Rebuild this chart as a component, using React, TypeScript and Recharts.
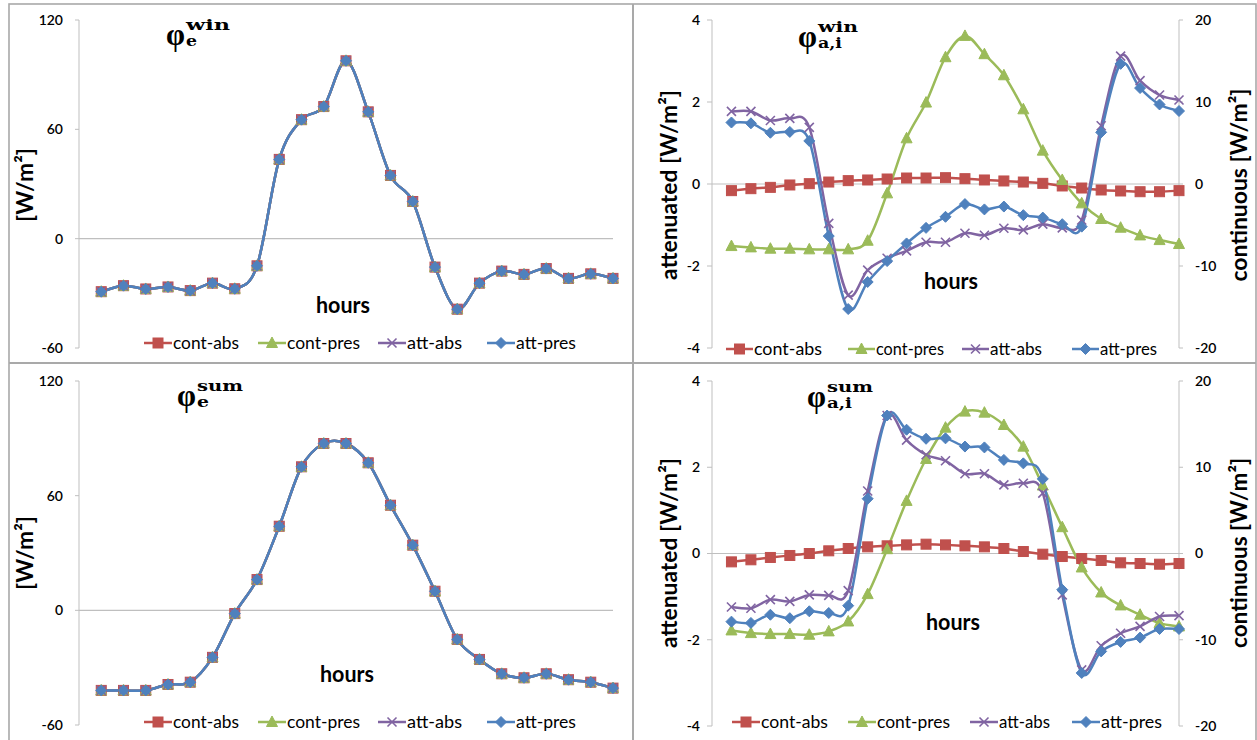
import React from 'react';
import { LineChart, Line, XAxis, YAxis, ReferenceLine } from 'recharts';

// ---------- data ----------
const hours = [1, 2, 3, 4, 5, 6, 7, 8, 9, 10, 11, 12, 13, 14, 15, 16, 17, 18, 19, 20, 21, 22, 23, 24];

// φe (winter / summer) – all four variants coincide
const eWin = [-29.1, -25.8, -27.6, -26.5, -28.5, -24.4, -27.5, -14.9, 43.5, 65.3, 72.5, 97.6, 69.6, 34.7, 20.4, -15.6, -38.7, -24.4, -17.8, -19.6, -16.4, -21.8, -19.3, -21.8];
const eSum = [-41.9, -41.9, -41.9, -38.8, -37.6, -24.6, -1.7, 16.1, 44.0, 75.1, 87.3, 87.3, 77.2, 55.0, 34.1, 10.0, -15.2, -25.7, -33.2, -35.3, -33.2, -36.3, -37.6, -40.7];

// φa,i winter: continuous (right axis) and attenuated (left axis)
const aiWinContAbs = [-0.81, -0.57, -0.41, -0.12, 0.04, 0.24, 0.41, 0.49, 0.61, 0.73, 0.73, 0.77, 0.65, 0.49, 0.37, 0.24, 0.08, -0.24, -0.49, -0.73, -0.85, -0.94, -0.94, -0.81];
const aiWinContPres = [-7.57, -7.73, -7.89, -7.89, -7.97, -7.97, -7.97, -6.92, -1.14, 5.57, 9.93, 15.46, 18.06, 15.83, 13.26, 9.11, 4.07, 0.49, -2.36, -4.27, -5.33, -6.27, -6.84, -7.32];
const aiWinAttAbs = [1.77, 1.77, 1.55, 1.6, 1.38, -0.96, -2.71, -2.1, -1.81, -1.63, -1.42, -1.42, -1.2, -1.25, -1.08, -1.12, -0.98, -1.07, -0.88, 1.42, 3.12, 2.52, 2.17, 2.05];
const aiWinAttPres = [1.5, 1.48, 1.25, 1.27, 1.05, -1.27, -3.05, -2.39, -1.88, -1.45, -1.07, -0.8, -0.49, -0.62, -0.55, -0.76, -0.82, -0.98, -1.04, 1.26, 2.93, 2.34, 1.94, 1.78];

// φa,i summer
const aiSumContAbs = [-0.97, -0.73, -0.46, -0.23, 0, 0.31, 0.58, 0.77, 0.89, 1.0, 1.08, 1.0, 0.89, 0.77, 0.58, 0.23, -0.08, -0.35, -0.58, -0.81, -1.08, -1.16, -1.24, -1.16];
const aiSumContPres = [-8.92, -9.23, -9.34, -9.34, -9.42, -9.03, -7.88, -4.71, 0.5, 6.1, 10.96, 14.59, 16.45, 16.33, 14.9, 12.39, 7.88, 3.05, -1.62, -4.52, -6.02, -7.1, -8.07, -8.46];
const aiSumAttAbs = [-1.24, -1.27, -1.07, -1.11, -0.96, -0.97, -0.86, 1.45, 3.2, 2.63, 2.29, 2.15, 1.85, 1.85, 1.59, 1.63, 1.4, -0.96, -2.7, -2.14, -1.85, -1.69, -1.46, -1.44];
const aiSumAttPres = [-1.58, -1.61, -1.42, -1.5, -1.34, -1.38, -1.21, 1.27, 3.2, 2.87, 2.66, 2.67, 2.48, 2.46, 2.17, 2.09, 1.73, -0.84, -2.77, -2.27, -2.05, -1.95, -1.75, -1.75];

const xTicks = [0, 6, 12, 18, 24];
const eTicks = [-60, 0, 60, 120];
const attTicks = [-4, -2, 0, 2, 4];
const contTicks = [-20, -10, 0, 10, 20];
const seriesNames = ['cont-abs', 'cont-pres', 'att-abs', 'att-pres'];

// ---------- style ----------
const FONT = "Lato, 'Open Sans', sans-serif";
const SERIF = "'DejaVu Serif', 'Liberation Serif', serif";
const PHI_FONT = "'Liberation Serif', 'DejaVu Serif', serif";
const AXIS_GRAY = '#bfbfbf';
const FRAME_GRAY = '#a9a9a9';
const COLORS = ['#C0504D', '#9BBB59', '#8064A2', '#4F81BD'];
const KEYS = ['contAbs', 'contPres', 'attAbs', 'attPres'];

const makeTable = (a: number[], b: number[], c: number[], d: number[]) =>
  hours.map((h, i) => ({ hour: h, contAbs: a[i], contPres: b[i], attAbs: c[i], attPres: d[i] }));

const dataEWin = makeTable(eWin, eWin, eWin, eWin);
const dataESum = makeTable(eSum, eSum, eSum, eSum);
const dataAiWin = makeTable(aiWinContAbs, aiWinContPres, aiWinAttAbs, aiWinAttPres);
const dataAiSum = makeTable(aiSumContAbs, aiSumContPres, aiSumAttAbs, aiSumAttPres);

// Excel-like smoothed curve (Catmull-Rom through the points)
function excelCurve(context: any) {
  let pts: number[][] = [];
  return {
    areaStart() {},
    areaEnd() {},
    lineStart() {
      pts = [];
    },
    point(x: number, y: number) {
      pts.push([+x, +y]);
    },
    lineEnd() {
      const n = pts.length;
      if (!n) return;
      context.moveTo(pts[0][0], pts[0][1]);
      for (let i = 0; i < n - 1; i++) {
        const p0 = pts[Math.max(i - 1, 0)];
        const p1 = pts[i];
        const p2 = pts[i + 1];
        const p3 = pts[Math.min(i + 2, n - 1)];
        context.bezierCurveTo(
          p1[0] + (p2[0] - p0[0]) / 6,
          p1[1] + (p2[1] - p0[1]) / 6,
          p2[0] - (p3[0] - p1[0]) / 6,
          p2[1] - (p3[1] - p1[1]) / 6,
          p2[0],
          p2[1]
        );
      }
    },
  };
}

function Marker({ idx, cx, cy }: { idx: number; cx: number; cy: number }) {
  const c = COLORS[idx];
  if (idx === 0) return <rect x={cx - 5} y={cy - 5} width={10} height={10} fill={c} stroke={c} />;
  if (idx === 1)
    return <polygon points={`${cx},${cy - 6} ${cx + 5.5},${cy + 4.5} ${cx - 5.5},${cy + 4.5}`} fill={c} stroke={c} />;
  if (idx === 2)
    return (
      <g stroke={c} strokeWidth={1.6}>
        <line x1={cx - 4.5} y1={cy - 4.5} x2={cx + 4.5} y2={cy + 4.5} />
        <line x1={cx - 4.5} y1={cy + 4.5} x2={cx + 4.5} y2={cy - 4.5} />
      </g>
    );
  return <polygon points={`${cx},${cy - 5.5} ${cx + 5.5},${cy} ${cx},${cy + 5.5} ${cx - 5.5},${cy}`} fill={c} stroke={c} />;
}

const makeDot = (idx: number) => (props: any) => {
  const { cx, cy, key } = props;
  if (cx == null || cy == null) return <g key={key} />;
  return (
    <g key={key}>
      <Marker idx={idx} cx={cx} cy={cy} />
    </g>
  );
};

const makeXTick = (shift: number) => (props: any) => {
  const { x, y, payload } = props;
  return (
    <text x={x} y={y - shift + 20} dy="0.355em" textAnchor="middle" fill="#000" fontSize={14} fontWeight={600} fontFamily={FONT}>
      {payload.value}
    </text>
  );
};

const tickStyle = { fill: '#000', fontSize: 14, fontWeight: 600, fontFamily: FONT };

type Margin = { top: number; right: number; bottom: number; left: number };

function EChart({ left, top, width, height, margin, data }: { left: number; top: number; width: number; height: number; margin: Margin; data: any[] }) {
  const plotH = height - margin.top - margin.bottom;
  const shift = (plotH * (0 - eTicks[0])) / (eTicks[eTicks.length - 1] - eTicks[0]);
  return (
    <div style={{ position: 'absolute', left, top }}>
      <LineChart width={width} height={height} data={data} margin={margin}>
        <XAxis
          dataKey="hour"
          type="number"
          domain={[0, 24]}
          ticks={xTicks}
          interval={0}
          height={0}
          tickSize={0}
          tickMargin={0}
          axisLine={false}
          tickLine={false}
          tick={makeXTick(shift)}
        />
        <YAxis
          domain={[eTicks[0], eTicks[eTicks.length - 1]]}
          ticks={eTicks}
          interval={0}
          width={60}
          tickSize={4}
          tickMargin={12}
          axisLine={{ stroke: AXIS_GRAY }}
          tickLine={{ stroke: AXIS_GRAY }}
          tick={tickStyle}
        />
        <ReferenceLine y={0} stroke={AXIS_GRAY} strokeWidth={1.2} />
        {KEYS.map((k, i) => (
          <Line
            key={k}
            dataKey={k}
            name={seriesNames[i]}
            type={excelCurve as any}
            stroke={COLORS[i]}
            strokeWidth={2.5}
            dot={makeDot(i)}
            activeDot={false}
            isAnimationActive={false}
          />
        ))}
      </LineChart>
    </div>
  );
}

function AIChart({ left, top, width, height, margin, data }: { left: number; top: number; width: number; height: number; margin: Margin; data: any[] }) {
  const plotH = height - margin.top - margin.bottom;
  const shift = (plotH * (0 - attTicks[0])) / (attTicks[attTicks.length - 1] - attTicks[0]);
  return (
    <div style={{ position: 'absolute', left, top }}>
      <LineChart width={width} height={height} data={data} margin={margin}>
        <XAxis
          dataKey="hour"
          type="number"
          domain={[0, 24]}
          ticks={xTicks}
          interval={0}
          height={0}
          tickSize={0}
          tickMargin={0}
          axisLine={false}
          tickLine={false}
          tick={makeXTick(shift)}
        />
        <YAxis
          yAxisId="left"
          domain={[attTicks[0], attTicks[attTicks.length - 1]]}
          ticks={attTicks}
          interval={0}
          width={60}
          tickSize={5}
          tickMargin={7}
          axisLine={{ stroke: AXIS_GRAY }}
          tickLine={{ stroke: AXIS_GRAY }}
          tick={tickStyle}
        />
        <YAxis
          yAxisId="right"
          orientation="right"
          domain={[contTicks[0], contTicks[contTicks.length - 1]]}
          ticks={contTicks}
          interval={0}
          width={60}
          tickSize={4}
          tickMargin={12}
          axisLine={{ stroke: AXIS_GRAY }}
          tickLine={{ stroke: AXIS_GRAY }}
          tick={tickStyle}
        />
        <ReferenceLine yAxisId="left" y={0} stroke={AXIS_GRAY} strokeWidth={1.2} />
        {KEYS.map((k, i) => (
          <Line
            key={k}
            yAxisId={i < 2 ? 'right' : 'left'}
            dataKey={k}
            name={seriesNames[i]}
            type={excelCurve as any}
            stroke={COLORS[i]}
            strokeWidth={2.5}
            dot={makeDot(i)}
            activeDot={false}
            isAnimationActive={false}
          />
        ))}
      </LineChart>
    </div>
  );
}

// ---------- overlay texts ----------
function LegendRow({ y, starts, lineW, textW }: { y: number; starts: number[]; lineW: number; textW: number[] }) {
  return (
    <g>
      {seriesNames.map((name, i) => {
        const x0 = starts[i];
        return (
          <g key={name}>
            <line x1={x0} y1={y} x2={x0 + lineW} y2={y} stroke={COLORS[i]} strokeWidth={2.5} />
            <Marker idx={i} cx={x0 + lineW / 2} cy={y} />
            <text
              x={x0 + lineW + 1}
              y={y}
              dy="0.36em"
              fontFamily={FONT}
              fontSize={17}
              fill="#000"
              textLength={textW[i]}
              lengthAdjust="spacingAndGlyphs"
            >
              {name}
            </text>
          </g>
        );
      })}
    </g>
  );
}

function Title({ x, y, sup, sub, supW, subW }: { x: number; y: number; sup: string; sub: string; supW: number; subW: number }) {
  return (
    <text fontWeight="bold" fill="#000">
      <tspan x={x} y={y} fontFamily={PHI_FONT} fontSize={31} textLength={19} lengthAdjust="spacingAndGlyphs">
        φ
      </tspan>
      <tspan x={x + 20} y={y - 15} fontFamily={SERIF} fontSize={14} textLength={supW} lengthAdjust="spacingAndGlyphs">
        {sup}
      </tspan>
      <tspan x={x + 20} y={y + 1} fontFamily={SERIF} fontSize={14} textLength={subW} lengthAdjust="spacingAndGlyphs">
        {sub}
      </tspan>
    </text>
  );
}

function VLabel({ cx, cy, text, len, size }: { cx: number; cy: number; text: string; len: number; size: number }) {
  return (
    <text
      transform={`translate(${cx},${cy}) rotate(-90)`}
      textAnchor="middle"
      dy="0.36em"
      fontFamily={FONT}
      fontWeight="bold"
      fontSize={size}
      fill="#000"
      textLength={len}
      lengthAdjust="spacingAndGlyphs"
    >
      {text}
    </text>
  );
}

function Hours({ cx, y }: { cx: number; y: number }) {
  return (
    <text x={cx} y={y} textAnchor="middle" fontFamily={FONT} fontWeight="bold" fontSize={22} fill="#000" textLength={54} lengthAdjust="spacingAndGlyphs">
      hours
    </text>
  );
}

export default function App() {
  const W = 1257;
  const H = 740;
  return (
    <div style={{ position: 'absolute', left: 0, top: 0, width: W, height: H, background: '#fff', overflow: 'hidden' }}>
      <EChart left={0} top={0} width={633} height={363} margin={{ top: 20, right: 20, bottom: 15, left: 19 }} data={dataEWin} />
      <AIChart left={633} top={0} width={624} height={363} margin={{ top: 20, right: 18, bottom: 15, left: 19 }} data={dataAiWin} />
      <EChart left={0} top={363} width={633} height={377} margin={{ top: 18, right: 20, bottom: 15, left: 19 }} data={dataESum} />
      <AIChart left={633} top={363} width={624} height={377} margin={{ top: 18, right: 18, bottom: 14, left: 19 }} data={dataAiSum} />
      <svg width={W} height={H} style={{ position: 'absolute', left: 0, top: 0, pointerEvents: 'none' }}>
        {/* frame */}
        <rect x={9} y={4} width={1247} height={740} fill="none" stroke={FRAME_GRAY} strokeWidth={1.6} />
        <line x1={633} y1={4} x2={633} y2={740} stroke={FRAME_GRAY} strokeWidth={2} />
        <line x1={9} y1={363} x2={1256} y2={363} stroke={FRAME_GRAY} strokeWidth={2} />

        {/* titles */}
        <Title x={166} y={45} sup="win" sub="e" supW={44} subW={11} />
        <Title x={798} y={47} sup="win" sub="a,i" supW={40} subW={24} />
        <Title x={177} y={406} sup="sum" sub="e" supW={46} subW={12} />
        <Title x={807} y={407} sup="sum" sub="a,i" supW={46} subW={25} />

        {/* axis titles */}
        <VLabel cx={25} cy={185} text="[W/m²]" len={74} size={23} />
        <VLabel cx={669} cy={185} text="attenuated [W/m²]" len={190} size={23} />
        <VLabel cx={1239} cy={185} text="continuous [W/m²]" len={193} size={23} />
        <VLabel cx={25} cy={553} text="[W/m²]" len={74} size={23} />
        <VLabel cx={669} cy={553} text="attenuated [W/m²]" len={190} size={23} />
        <VLabel cx={1239} cy={553} text="continuous [W/m²]" len={190} size={23} />

        <Hours cx={343} y={313} />
        <Hours cx={951} y={289} />
        <Hours cx={347} y={682} />
        <Hours cx={953} y={630} />

        {/* legends */}
        <LegendRow y={343} starts={[144, 258, 378, 487]} lineW={28} textW={[66, 73, 55, 60]} />
        <LegendRow y={349} starts={[726, 848, 962, 1072]} lineW={27} textW={[68, 68, 52, 57]} />
        <LegendRow y={722} starts={[144, 258, 378, 487]} lineW={28} textW={[66, 73, 55, 60]} />
        <LegendRow y={722} starts={[732, 848, 970, 1072]} lineW={28} textW={[67, 73, 51, 61]} />
      </svg>
    </div>
  );
}
